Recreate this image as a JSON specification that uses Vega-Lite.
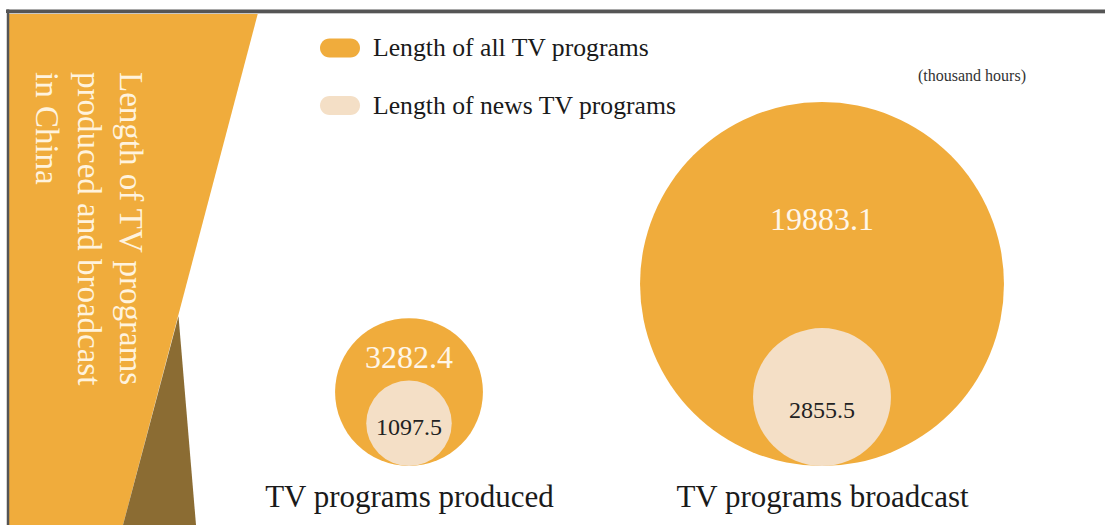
{
  "$schema": "https://vega.github.io/schema/vega-lite/v6.json",
  "width": 1105,
  "height": 525,
  "autosize": {"type": "none"},
  "padding": 0,
  "background": "#ffffff",
  "config": {"view": {"stroke": null}, "font": "Liberation Serif"},
  "data": {
    "values": [
      {"stage": "TV programs produced", "series": "Length of all TV programs", "value": 3282.4},
      {"stage": "TV programs broadcast", "series": "Length of all TV programs", "value": 19883.1},
      {"stage": "TV programs produced", "series": "Length of news TV programs", "value": 1097.5},
      {"stage": "TV programs broadcast", "series": "Length of news TV programs", "value": 2855.5}
    ]
  },
  "resolve": {"scale": {"x": "independent", "y": "independent", "color": "independent", "size": "independent"}},
  "layer": [
    {
      "data": {"values": [{"edge_y": 11, "left_x": 8, "right_x": 258.5}, {"edge_y": 525, "left_x": 8, "right_x": 123}]},
      "mark": {"type": "area", "orient": "horizontal", "color": "#F0AC3C"},
      "encoding": {
        "y": {"field": "edge_y", "type": "quantitative", "scale": {"domain": [0, 525], "nice": false, "zero": false, "reverse": true}, "axis": null},
        "x": {"field": "left_x", "type": "quantitative", "scale": {"domain": [0, 1105], "nice": false, "zero": false}, "axis": null},
        "x2": {"field": "right_x"}
      }
    },
    {
      "data": {"values": [{"edge_y": 316, "left_x": 178.5, "right_x": 178.5}, {"edge_y": 525, "left_x": 123, "right_x": 196}]},
      "mark": {"type": "area", "orient": "horizontal", "color": "#8B6C33"},
      "encoding": {
        "y": {"field": "edge_y", "type": "quantitative", "scale": {"domain": [0, 525], "nice": false, "zero": false, "reverse": true}, "axis": null},
        "x": {"field": "left_x", "type": "quantitative", "scale": {"domain": [0, 1105], "nice": false, "zero": false}, "axis": null},
        "x2": {"field": "right_x"}
      }
    },
    {
      "data": {"values": [{}]},
      "mark": {"type": "rule", "color": "#555555", "strokeWidth": 3.5},
      "encoding": {
        "x": {"datum": 6, "scale": {"domain": [0, 1105], "nice": false, "zero": false}, "axis": null},
        "x2": {"datum": 1105},
        "y": {"datum": 11.2, "scale": {"domain": [0, 525], "nice": false, "zero": false, "reverse": true}, "axis": null}
      }
    },
    {
      "data": {"values": [{}]},
      "mark": {"type": "rule", "color": "#c8c8c8", "strokeWidth": 1},
      "encoding": {
        "x": {"datum": 9, "scale": {"domain": [0, 1105], "nice": false, "zero": false}, "axis": null},
        "x2": {"datum": 1105},
        "y": {"datum": 13.5, "scale": {"domain": [0, 525], "nice": false, "zero": false, "reverse": true}, "axis": null}
      }
    },
    {
      "data": {"values": [{}]},
      "mark": {"type": "rule", "color": "#555555", "strokeWidth": 2.5},
      "encoding": {
        "x": {"datum": 8, "scale": {"domain": [0, 1105], "nice": false, "zero": false}, "axis": null},
        "y": {"datum": 9.5, "scale": {"domain": [0, 525], "nice": false, "zero": false, "reverse": true}, "axis": null},
        "y2": {"datum": 525}
      }
    },
    {
      "data": {"values": [{}]},
      "mark": {
        "type": "text",
        "text": ["Length of TV programs", "produced and broadcast", "in China"],
        "angle": 90,
        "align": "left",
        "baseline": "alphabetic",
        "fontSize": 33,
        "lineHeight": 42,
        "font": "Liberation Serif",
        "color": "#FFF3DE"
      },
      "encoding": {
        "x": {"datum": 120, "scale": {"domain": [0, 1105], "nice": false, "zero": false}, "axis": null},
        "y": {"datum": 72, "scale": {"domain": [0, 525], "nice": false, "zero": false, "reverse": true}, "axis": null}
      }
    },
    {
      "data": {"values": [{}]},
      "mark": {
        "type": "text",
        "text": "(thousand hours)",
        "align": "left",
        "baseline": "alphabetic",
        "fontSize": 16,
        "font": "Liberation Serif",
        "color": "#333333"
      },
      "encoding": {
        "x": {"datum": 918, "scale": {"domain": [0, 1105], "nice": false, "zero": false}, "axis": null},
        "y": {"datum": 81, "scale": {"domain": [0, 525], "nice": false, "zero": false, "reverse": true}, "axis": null}
      }
    },
    {
      "mark": {"type": "point", "shape": "circle", "filled": true, "opacity": 1, "strokeWidth": 0},
      "encoding": {
        "x": {
          "field": "stage", "type": "nominal",
          "scale": {"type": "point", "domain": ["TV programs produced", "TV programs broadcast"], "range": [409, 822], "padding": 0},
          "axis": {
            "orient": "bottom", "offset": -19, "title": null, "domain": false, "ticks": false, "tickSize": 0,
            "labelPadding": 0, "labelBaseline": "alphabetic", "labelAngle": 0,
            "labelFont": "Liberation Serif", "labelFontSize": 31, "labelColor": "#1a1a1a", "labelLimit": 0, "grid": false
          }
        },
        "y": {"field": "value", "type": "quantitative", "scale": {"type": "sqrt", "domain": [0, 20000], "range": [466, 283.5], "nice": false, "zero": true}, "axis": null},
        "size": {"field": "value", "type": "quantitative", "scale": {"type": "linear", "domain": [0, 20000], "range": [0, 133225]}, "legend": null},
        "color": {
          "field": "series", "type": "nominal",
          "scale": {"domain": ["Length of all TV programs", "Length of news TV programs"], "range": ["#F0AC3C", "#F4DFC6"]},
          "legend": {
            "orient": "none", "legendX": 320, "legendY": 28, "title": null,
            "symbolType": "M-0.525,-0.475L0.525,-0.475A0.475,0.475,0,0,1,0.525,0.475L-0.525,0.475A0.475,0.475,0,0,1,-0.525,-0.475Z",
            "symbolSize": 1600, "symbolStrokeWidth": 0, "symbolOpacity": 1,
            "labelFont": "Liberation Serif", "labelFontSize": 25.7, "labelColor": "#1a1a1a", "labelOffset": 13, "labelLimit": 0,
            "rowPadding": 24.5, "padding": 0
          }
        },
        "order": {"field": "value", "type": "quantitative", "sort": "descending"}
      }
    },
    {
      "transform": [{"filter": "datum.series === 'Length of all TV programs'"}],
      "mark": {"type": "text", "align": "center", "baseline": "alphabetic", "fontSize": 32, "font": "Liberation Serif", "color": "#FFF6E8"},
      "encoding": {
        "x": {"field": "stage", "type": "nominal", "scale": {"type": "point", "domain": ["TV programs produced", "TV programs broadcast"], "range": [409, 822], "padding": 0}, "axis": null},
        "y": {"field": "value", "type": "quantitative", "scale": {"type": "sqrt", "domain": [0, 20000], "range": [462.4, 229.3], "nice": false, "zero": true}, "axis": null},
        "text": {"field": "value", "type": "quantitative", "format": ".1f"}
      }
    },
    {
      "transform": [{"filter": "datum.series === 'Length of news TV programs'"}],
      "mark": {"type": "text", "align": "center", "baseline": "alphabetic", "fontSize": 24, "font": "Liberation Serif", "color": "#222222"},
      "encoding": {
        "x": {"field": "stage", "type": "nominal", "scale": {"type": "point", "domain": ["TV programs produced", "TV programs broadcast"], "range": [409, 822], "padding": 0}, "axis": null},
        "y": {"field": "value", "type": "quantitative", "scale": {"type": "sqrt", "domain": [0, 20000], "range": [462.7, 344.3], "nice": false, "zero": true}, "axis": null},
        "text": {"field": "value", "type": "quantitative", "format": ".1f"}
      }
    }
  ]
}
